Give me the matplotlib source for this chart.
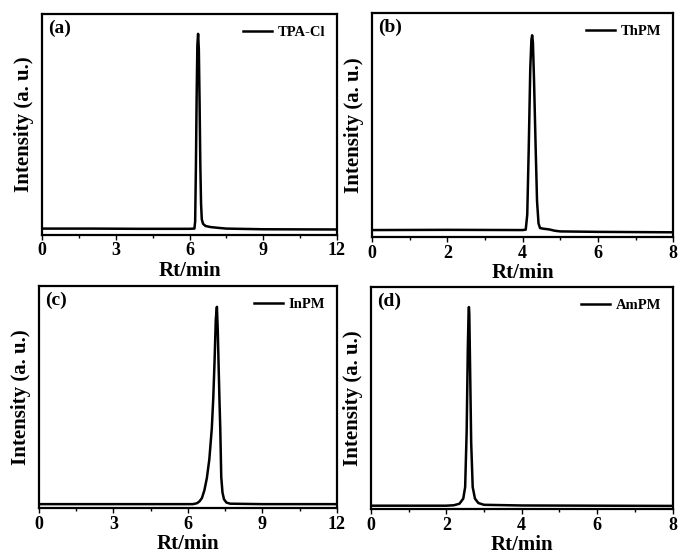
import numpy as np
import matplotlib.pyplot as plt
from matplotlib.ticker import MultipleLocator, AutoMinorLocator

plt.rcParams['font.family'] = 'Liberation Serif'
plt.rcParams['font.weight'] = 'bold'

# Chromatogram traces (relative intensity)
t_tpa = [0, 2, 4, 6.0, 6.20, 6.23, 6.26, 6.29, 6.32, 6.35, 6.38, 6.41, 6.44,
         6.47, 6.50, 6.55, 6.65, 6.85, 7.2, 7.5, 9, 12]
i_tpa = [0.028, 0.028, 0.027, 0.027, 0.028, 0.06, 0.30, 0.62, 0.86, 0.91, 0.84,
         0.60, 0.32, 0.14, 0.07, 0.05, 0.04, 0.035, 0.031, 0.028, 0.025, 0.024]

t_thpm = [0, 2, 4.0, 4.08, 4.12, 4.16, 4.20, 4.23, 4.25, 4.27, 4.30, 4.34,
          4.38, 4.42, 4.46, 4.55, 4.70, 4.85, 5.0, 6, 8]
i_thpm = [0.031, 0.032, 0.031, 0.033, 0.10, 0.40, 0.75, 0.88, 0.90, 0.87, 0.70,
          0.42, 0.16, 0.06, 0.04, 0.037, 0.034, 0.028, 0.025, 0.023, 0.021]

t_inpm = [0, 3, 6.2, 6.36, 6.46, 6.56, 6.66, 6.76, 6.86, 6.96, 7.02, 7.07,
          7.12, 7.165, 7.20, 7.23, 7.27, 7.30, 7.34, 7.39, 7.45, 7.55, 7.7, 9, 12]
i_inpm = [0.018, 0.018, 0.018, 0.022, 0.03, 0.045, 0.08, 0.135, 0.22, 0.36, 0.50,
          0.66, 0.85, 0.907, 0.80, 0.66, 0.48, 0.36, 0.14, 0.07, 0.04, 0.025,
          0.02, 0.018, 0.018]

t_ampm = [0, 2.0, 2.2, 2.35, 2.45, 2.50, 2.54, 2.57, 2.59, 2.60, 2.61, 2.63,
          2.66, 2.70, 2.76, 2.85, 3.0, 4, 8]
i_ampm = [0.016, 0.016, 0.018, 0.025, 0.048, 0.10, 0.35, 0.72, 0.88, 0.911,
          0.88, 0.65, 0.30, 0.10, 0.048, 0.028, 0.02, 0.017, 0.015]

panels = [
    ('(a)', 'TPA-Cl', t_tpa, i_tpa, 12, 3, [0.062, 0.580, 0.435, 0.395]),
    ('(b)', 'ThPM', t_thpm, i_thpm, 8, 2, [0.549, 0.576, 0.444, 0.401]),
    ('(c)', 'InPM', t_inpm, i_inpm, 12, 3, [0.0575, 0.091, 0.4395, 0.397]),
    ('(d)', 'AmPM', t_ampm, i_ampm, 8, 2, [0.547, 0.089, 0.445, 0.397]),
]

fig = plt.figure(figsize=(6.78, 5.59), dpi=100)

for tag, name, t, inten, xmax, step, rect in panels:
    ax = fig.add_axes(rect)
    ax.plot(t, inten, color='black', lw=1.8, label=name)
    ax.set_xlim(0, xmax)
    ax.set_ylim(0, 1)
    ax.xaxis.set_major_locator(MultipleLocator(step))
    ax.xaxis.set_minor_locator(AutoMinorLocator(2))
    ax.set_yticks([])
    ax.tick_params(axis='x', which='major', direction='out', length=3.5,
                   width=1.0, labelsize=13, pad=2)
    ax.tick_params(axis='x', which='minor', direction='out', length=2.5, width=1.0)
    for s in ax.spines.values():
        s.set_linewidth(1.6)
    ax.set_xlabel('Rt/min', fontsize=15, fontweight='bold', labelpad=1)
    ax.set_ylabel('Intensity (a. u.)', fontsize=15, fontweight='bold', labelpad=6)
    ax.text(0.02, 0.975, tag, transform=ax.transAxes, va='top', ha='left',
            fontsize=14, fontweight='bold')
    ax.legend(loc='upper right', frameon=False, fontsize=10.5, handlelength=2.0,
              handletextpad=0.4, borderaxespad=0.4)

fig.savefig('out.png', dpi=100)
